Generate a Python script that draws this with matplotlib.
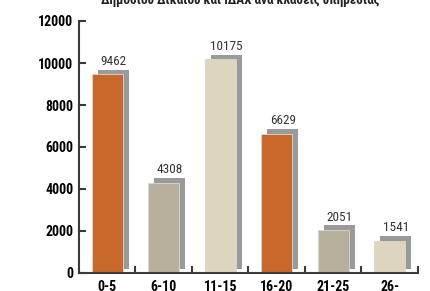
import matplotlib
matplotlib.use("Agg")
import matplotlib.pyplot as plt
import matplotlib.transforms as mtrans

# data
klaseis = ["0-5", "6-10", "11-15", "16-20", "21-25", "26-"]
ypalliloi = [9462, 4308, 10175, 6629, 2051, 1541]
xromata = ["#C8682A", "#B6B09D", "#DDD5BE", "#C8682A", "#B6B09D", "#DDD5BE"]
yticks = [0, 2000, 4000, 6000, 8000, 10000, 12000]
titlos = "Δημοσίου Δικαίου και ΙΔΑΧ ανά κλάσεις υπηρεσίας"

plt.rcParams['font.family'] = ['Roboto Condensed', 'Liberation Sans Narrow', 'DejaVu Sans']

fig = plt.figure(figsize=(4.31, 2.91), dpi=100)
ax = fig.add_axes([79/431, 18/291, 339/431, 252/291])

x = list(range(len(klaseis)))

# skia (shadow) piso apo kathe mpara
skia = ax.transData + mtrans.ScaledTranslation(6/100, 4.5/100, fig.dpi_scale_trans)
ax.bar(x, ypalliloi, width=0.55, color="#9A9A9A", transform=skia, zorder=1)
ax.bar(x, ypalliloi, width=0.55, color=xromata, edgecolor="#D8D8D8",
       linewidth=0.6, zorder=2)

for i, v in enumerate(ypalliloi):
    ax.annotate(str(v), (i, v), xytext=(4.6, 4.6), textcoords="offset points",
                ha="center", va="bottom", fontsize=9.5, color="#333333")

ax.set_xlim(-0.5, len(klaseis) - 0.5)
ax.set_ylim(0, 12000)

for s in ["top", "right"]:
    ax.spines[s].set_visible(False)
for s in ["left", "bottom"]:
    ax.spines[s].set_color("#3A3A3A")
    ax.spines[s].set_linewidth(1.5)

ax.set_yticks(yticks)
ax.set_yticklabels([str(t) for t in yticks], fontweight="bold", fontsize=10)
ax.tick_params(axis="y", direction="in", length=5, width=1.5, color="#3A3A3A", pad=4)

ax.set_xticks(x)
ax.set_xticklabels(klaseis, fontweight="bold", fontsize=10)
ax.set_xticks([i + 0.5 for i in x], minor=True)
ax.tick_params(axis="x", which="major", length=0, pad=5)
ax.tick_params(axis="x", which="minor", direction="in", length=5, width=1.5, color="#3A3A3A")

fig.text(240/431, 1 - 4/291, titlos, ha="center", va="baseline",
         fontsize=9.5, fontweight="bold", color="#222222")

fig.savefig("out.png", dpi=100)
